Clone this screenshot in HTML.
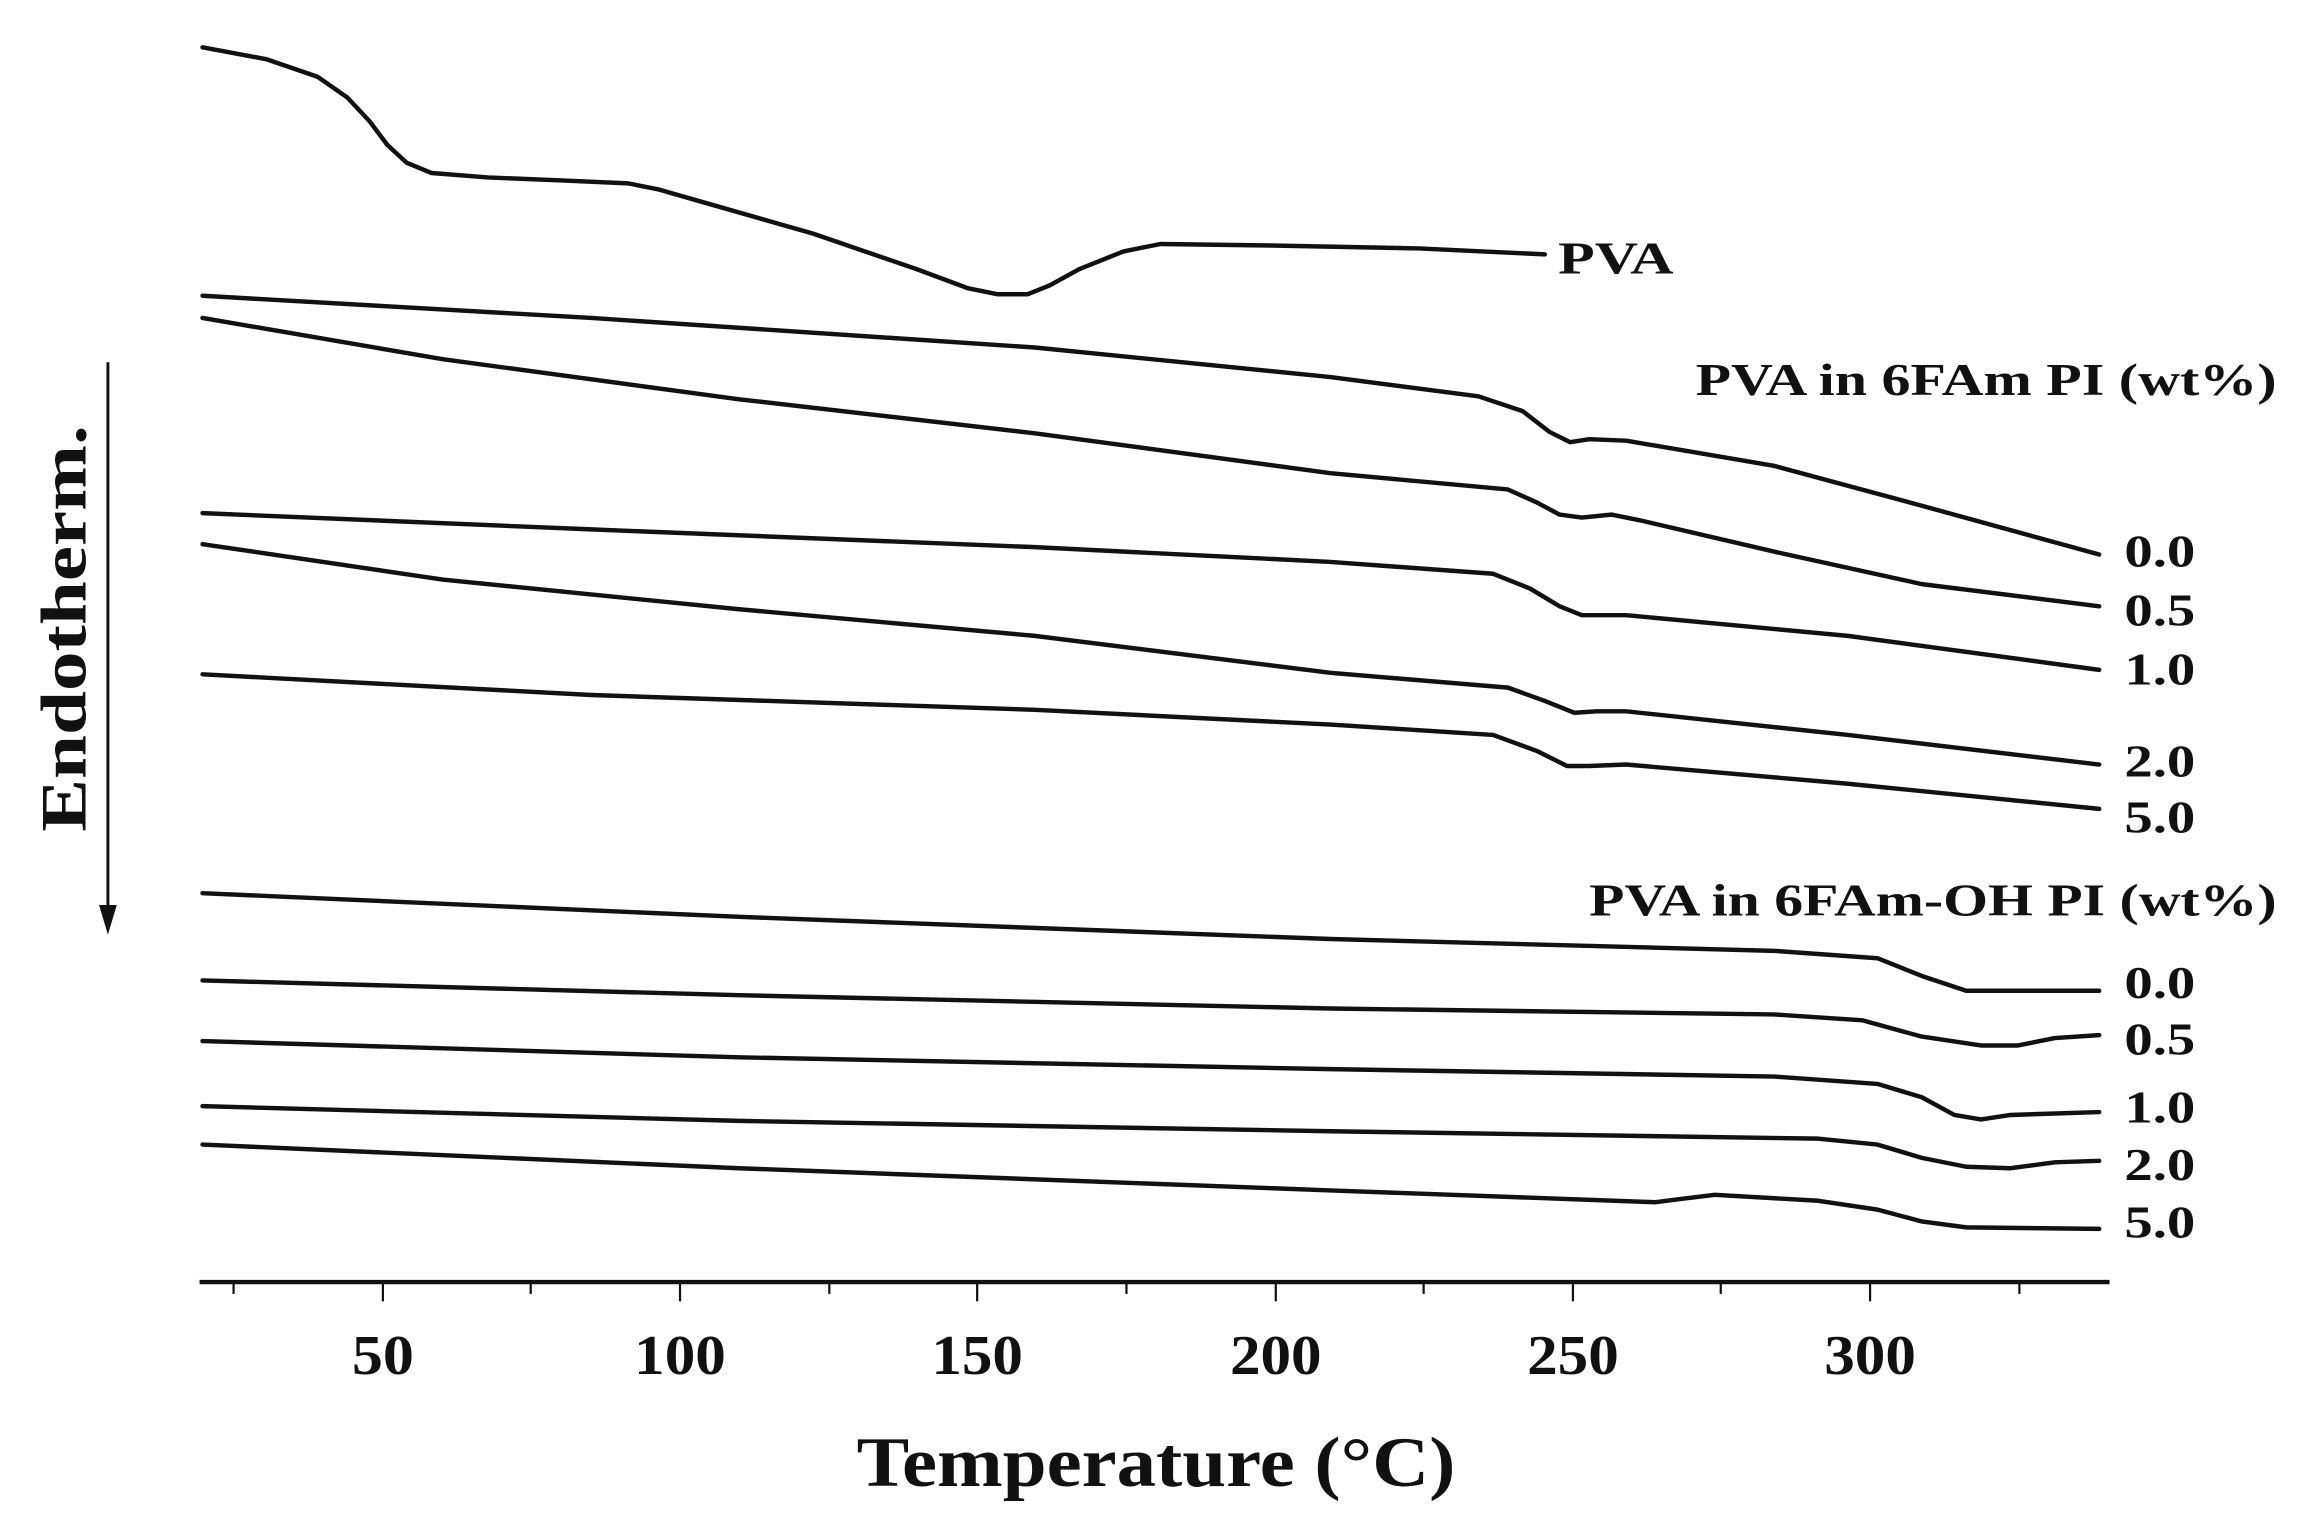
<!DOCTYPE html>
<html><head><meta charset="utf-8"><style>
html,body{margin:0;padding:0;background:#fff;}
svg{display:block;}
text{font-family:"Liberation Serif",serif;font-weight:bold;fill:#111;}
</style></head><body>
<svg width="2318" height="1532" viewBox="0 0 1568 1036" preserveAspectRatio="none" xmlns="http://www.w3.org/2000/svg">
<g fill="none" stroke="#111" stroke-width="3" stroke-linejoin="round" stroke-linecap="round">
<polyline points="137,32 180,40 215,52 235,66 250,82 262,98 275,110 292,117 330,120 380,122 425,124 445,128 480,138 550,158 620,182 655,195 675,199 695,199 710,193 730,182 760,170 785,165 860,166 960,168 1045,172"/>
<polyline points="137,200 400,215 700,235 900,255 1000,268 1030,278 1048,292 1062,299 1075,297 1100,298 1200,315 1300,342 1420,375"/>
<polyline points="137,215 300,243 500,270 700,293 900,320 1020,331 1040,340 1055,348 1070,350 1090,348 1110,352 1200,373 1300,395 1420,410"/>
<polyline points="137,347 400,358 700,370 900,380 1010,388 1035,398 1055,410 1070,416 1100,416 1250,430 1420,453"/>
<polyline points="137,368 300,392 500,412 700,430 900,455 1020,465 1045,474 1065,482 1080,481 1100,481 1250,497 1420,517"/>
<polyline points="137,456 400,470 700,480 900,490 1010,497 1040,508 1060,518 1075,518 1100,517 1250,530 1420,547"/>
<polyline points="137,604 500,620 900,635 1200,643 1270,648 1300,660 1330,670 1420,670"/>
<polyline points="137,663 500,673 900,682 1200,686 1260,690 1300,701 1340,707 1365,707 1390,702 1420,700"/>
<polyline points="137,704 500,715 900,723 1200,728 1270,733 1300,742 1322,754 1340,757 1360,754 1420,752"/>
<polyline points="137,748 500,758 900,765 1230,770 1270,774 1300,783 1330,789 1360,790 1390,786 1420,785"/>
<polyline points="137,774 500,790 900,805 1120,813 1135,811 1160,808 1230,812 1270,818 1300,826 1330,830 1420,831"/>
</g>
<g stroke="#111">
<line x1="135" y1="867" x2="1427" y2="867" stroke-width="3"/>
<g stroke-width="1.5">
<line x1="158" y1="867" x2="158" y2="875"/><line x1="259" y1="867" x2="259" y2="880"/>
<line x1="359" y1="867" x2="359" y2="875"/><line x1="460" y1="867" x2="460" y2="880"/>
<line x1="561" y1="867" x2="561" y2="875"/><line x1="661" y1="867" x2="661" y2="880"/>
<line x1="762" y1="867" x2="762" y2="875"/><line x1="863" y1="867" x2="863" y2="880"/>
<line x1="963" y1="867" x2="963" y2="875"/><line x1="1064" y1="867" x2="1064" y2="880"/>
<line x1="1164" y1="867" x2="1164" y2="875"/><line x1="1265" y1="867" x2="1265" y2="880"/>
<line x1="1366" y1="867" x2="1366" y2="875"/>
</g>
<line x1="73" y1="245" x2="73" y2="615" stroke-width="2"/>
</g>
<polygon points="67,612 79,612 73,632" fill="#111"/>
<g font-size="38" text-anchor="middle" font-weight="normal">
<text x="259" y="929" textLength="42" lengthAdjust="spacingAndGlyphs">50</text>
<text x="460" y="929" textLength="62" lengthAdjust="spacingAndGlyphs">100</text>
<text x="661" y="929" textLength="62" lengthAdjust="spacingAndGlyphs">150</text>
<text x="863" y="929" textLength="62" lengthAdjust="spacingAndGlyphs">200</text>
<text x="1064" y="929" textLength="62" lengthAdjust="spacingAndGlyphs">250</text>
<text x="1265" y="929" textLength="62" lengthAdjust="spacingAndGlyphs">300</text>
</g>
<text x="782" y="1005" font-size="48" text-anchor="middle" textLength="405" lengthAdjust="spacingAndGlyphs">Temperature (°C)</text>
<text transform="translate(58,425) rotate(-90)" font-size="44" text-anchor="middle" textLength="275" lengthAdjust="spacingAndGlyphs">Endotherm.</text>
<g font-size="31">
<text x="1054" y="185" textLength="78" lengthAdjust="spacingAndGlyphs">PVA</text>
<text x="1147" y="267" textLength="393" lengthAdjust="spacingAndGlyphs">PVA in 6FAm PI (wt%)</text>
<text x="1075" y="619" textLength="465" lengthAdjust="spacingAndGlyphs">PVA in 6FAm-OH PI (wt%)</text>
<text x="1437" y="383" textLength="48" lengthAdjust="spacingAndGlyphs">0.0</text><text x="1437" y="423" textLength="48" lengthAdjust="spacingAndGlyphs">0.5</text><text x="1437" y="463" textLength="48" lengthAdjust="spacingAndGlyphs">1.0</text>
<text x="1437" y="525" textLength="48" lengthAdjust="spacingAndGlyphs">2.0</text><text x="1437" y="563" textLength="48" lengthAdjust="spacingAndGlyphs">5.0</text>
<text x="1437" y="675" textLength="48" lengthAdjust="spacingAndGlyphs">0.0</text><text x="1437" y="713" textLength="48" lengthAdjust="spacingAndGlyphs">0.5</text><text x="1437" y="759" textLength="48" lengthAdjust="spacingAndGlyphs">1.0</text>
<text x="1437" y="798" textLength="48" lengthAdjust="spacingAndGlyphs">2.0</text><text x="1437" y="837" textLength="48" lengthAdjust="spacingAndGlyphs">5.0</text>
</g>
</svg>
</body></html>
